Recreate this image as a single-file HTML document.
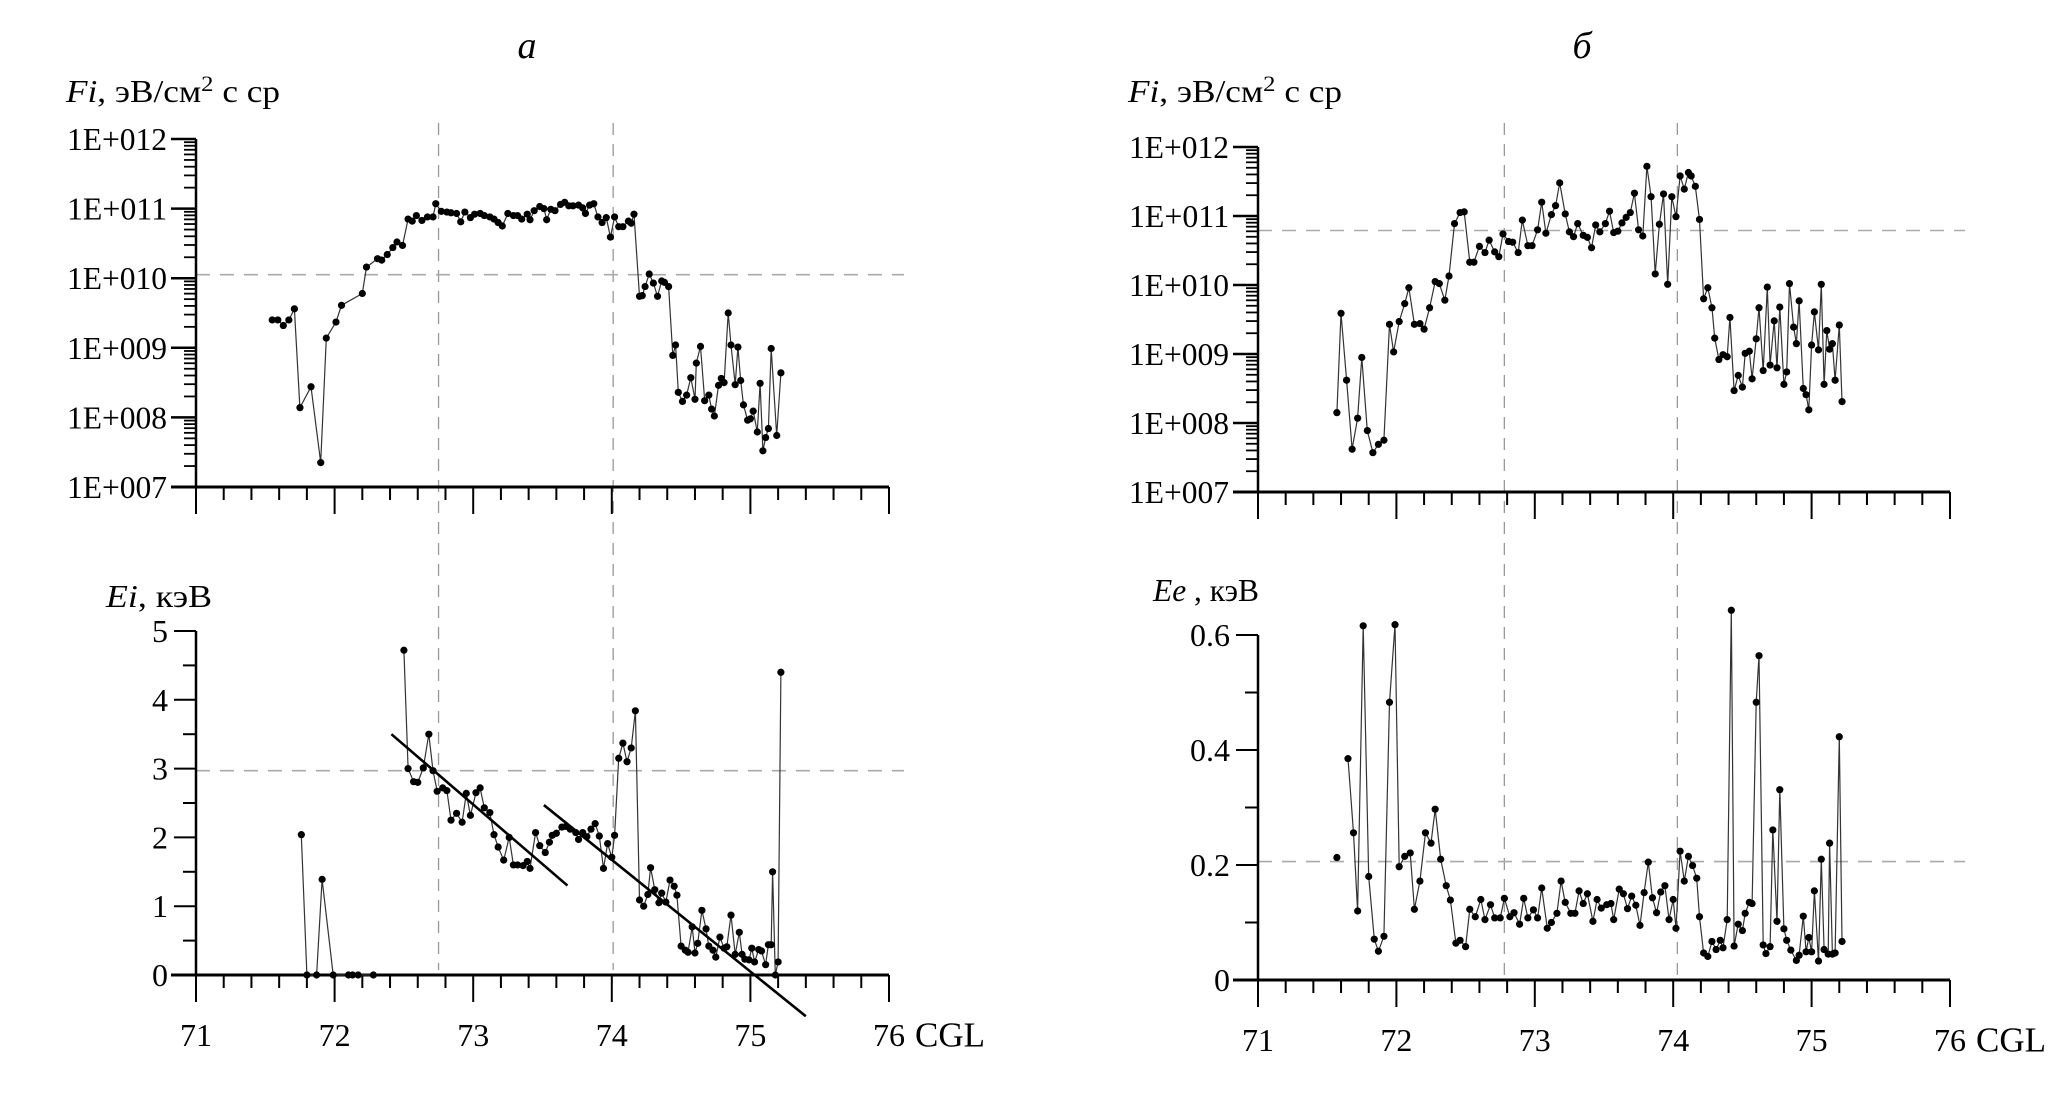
<!DOCTYPE html>
<html><head><meta charset="utf-8"><style>
html,body{margin:0;padding:0;background:#fff}
svg{display:block}
text{font-family:"Liberation Serif","DejaVu Serif",serif;fill:#000}
</style></head><body>
<svg id="chart" width="2071" height="1120" viewBox="0 0 2071 1120" xmlns="http://www.w3.org/2000/svg"></svg>
<script>
// ---- Panel a, top: Fi (log10 exponent) ----
const fiAX = [71.55,71.59,71.63,71.67,71.71,71.75,71.83,71.90,71.94,72.01,72.05,72.20,72.23,72.31,72.34,72.38,72.42,72.45,72.49,72.53,72.56,72.59,72.63,72.67,72.71,72.73,72.77,72.81,72.84,72.88,72.91,72.94,72.98,73.01,73.05,73.08,73.12,73.15,73.18,73.21,73.25,73.29,73.32,73.35,73.39,73.41,73.44,73.48,73.51,73.53,73.56,73.59,73.63,73.66,73.69,73.72,73.76,73.79,73.81,73.84,73.87,73.90,73.93,73.96,73.99,74.02,74.05,74.08,74.12,74.14,74.16,74.20,74.22,74.24,74.27,74.30,74.33,74.36,74.38,74.41,74.44,74.46,74.48,74.51,74.54,74.57,74.60,74.61,74.64,74.67,74.70,74.72,74.74,74.77,74.79,74.81,74.84,74.86,74.89,74.91,74.93,74.95,74.98,75.00,75.02,75.05,75.07,75.09,75.11,75.13,75.15,75.19,75.22];
const fiALog = [9.40,9.40,9.32,9.40,9.56,8.14,8.44,7.35,9.14,9.37,9.61,9.78,10.16,10.28,10.26,10.34,10.44,10.52,10.47,10.85,10.82,10.90,10.83,10.88,10.88,11.07,10.96,10.95,10.94,10.93,10.81,10.95,10.87,10.92,10.93,10.90,10.88,10.85,10.80,10.75,10.93,10.90,10.90,10.85,10.92,10.84,10.97,11.03,11.00,10.84,10.99,10.97,11.06,11.09,11.04,11.04,11.05,11.01,10.93,11.05,11.07,10.88,10.80,10.87,10.59,10.88,10.74,10.74,10.82,10.79,10.92,9.74,9.75,9.88,10.06,9.93,9.74,9.96,9.94,9.88,8.89,9.04,8.36,8.23,8.32,8.57,8.26,8.78,9.02,8.24,8.32,8.12,8.02,8.46,8.56,8.50,9.50,9.04,8.47,9.01,8.53,8.18,7.96,7.98,8.09,7.79,8.49,7.52,7.71,7.84,8.99,7.74,8.64];
// ---- Panel a, bottom: Ei, keV ----
const eiX = [71.76,71.80,71.87,71.91,71.99,72.10,72.13,72.17,72.28,72.50,72.53,72.57,72.60,72.64,72.68,72.71,72.74,72.78,72.81,72.84,72.88,72.92,72.95,72.98,73.02,73.05,73.08,73.12,73.15,73.18,73.22,73.26,73.29,73.32,73.36,73.39,73.41,73.45,73.48,73.52,73.55,73.57,73.60,73.64,73.67,73.70,73.74,73.76,73.79,73.82,73.85,73.88,73.91,73.94,73.97,74.00,74.02,74.05,74.08,74.11,74.14,74.17,74.20,74.23,74.26,74.28,74.31,74.34,74.36,74.39,74.42,74.45,74.47,74.50,74.53,74.55,74.58,74.60,74.62,74.65,74.68,74.70,74.73,74.75,74.78,74.81,74.83,74.86,74.89,74.92,74.94,74.96,74.99,75.01,75.03,75.06,75.08,75.11,75.13,75.15,75.16,75.18,75.20,75.22];
const eiVal = [2.04,0,0,1.39,0,0,0,0,0,4.72,3.00,2.81,2.80,3.01,3.50,2.97,2.67,2.72,2.68,2.25,2.35,2.22,2.64,2.32,2.65,2.72,2.43,2.36,2.04,1.86,1.67,2.00,1.60,1.60,1.59,1.65,1.55,2.07,1.88,1.78,1.93,2.03,2.06,2.15,2.16,2.12,2.07,1.97,2.07,2.01,2.12,2.20,2.02,1.55,1.91,1.71,2.03,3.15,3.37,3.10,3.30,3.84,1.09,1.00,1.17,1.56,1.24,1.05,1.19,1.06,1.38,1.29,1.16,0.42,0.36,0.33,0.70,0.32,0.46,0.94,0.67,0.42,0.36,0.26,0.55,0.39,0.41,0.87,0.30,0.62,0.30,0.23,0.22,0.39,0.19,0.37,0.35,0.15,0.44,0.44,1.50,0,0.19,4.40];
const eiBreaks = [9];
const fitLinesX = [[72.41,73.68],[73.51,75.40]];
const fitLinesY = [[3.50,1.30],[2.47,-0.60]];
// ---- Panel b, top: Fi (log10 exponent) ----
const fiBX = [71.57,71.60,71.64,71.68,71.72,71.75,71.79,71.83,71.87,71.91,71.95,71.98,72.02,72.06,72.09,72.13,72.17,72.20,72.24,72.28,72.31,72.35,72.38,72.42,72.46,72.49,72.53,72.56,72.60,72.64,72.67,72.71,72.74,72.77,72.81,72.84,72.88,72.91,72.95,72.98,73.02,73.05,73.08,73.12,73.15,73.18,73.22,73.25,73.28,73.31,73.35,73.38,73.41,73.44,73.47,73.51,73.54,73.57,73.60,73.63,73.66,73.69,73.72,73.75,73.78,73.81,73.84,73.87,73.90,73.93,73.96,73.99,74.02,74.05,74.08,74.11,74.13,74.16,74.19,74.22,74.25,74.28,74.30,74.33,74.36,74.39,74.41,74.44,74.47,74.50,74.52,74.55,74.57,74.60,74.62,74.65,74.68,74.70,74.73,74.75,74.77,74.80,74.82,74.84,74.87,74.89,74.91,74.94,74.96,74.98,75.00,75.02,75.05,75.07,75.09,75.11,75.13,75.15,75.17,75.20,75.22];
const fiBLog = [8.15,9.59,8.62,7.62,8.07,8.95,7.89,7.57,7.69,7.75,9.43,9.03,9.47,9.73,9.96,9.43,9.44,9.36,9.67,10.05,10.02,9.78,10.13,10.89,11.05,11.06,10.33,10.33,10.56,10.47,10.65,10.48,10.41,10.74,10.63,10.62,10.47,10.94,10.57,10.57,10.80,11.20,10.75,11.02,11.15,11.48,11.03,10.77,10.70,10.89,10.72,10.69,10.54,10.87,10.77,10.89,11.07,10.76,10.78,10.90,10.98,11.05,11.33,10.80,10.71,11.72,11.28,10.16,10.88,11.32,10.01,11.28,10.99,11.58,11.39,11.63,11.58,11.43,10.95,9.80,9.96,9.67,9.23,8.92,8.99,8.96,9.53,8.47,8.69,8.52,9.01,9.04,8.64,9.22,9.67,8.76,9.97,8.84,9.48,8.80,9.68,8.56,8.74,10.02,9.39,9.15,9.77,8.50,8.41,8.19,9.13,9.61,9.06,10.01,8.56,9.34,9.07,9.15,8.62,9.42,8.31];
// ---- Panel b, bottom: Ee, keV ----
const eeX = [71.57,71.65,71.69,71.72,71.76,71.80,71.84,71.87,71.91,71.95,71.99,72.02,72.06,72.10,72.13,72.17,72.21,72.25,72.28,72.32,72.36,72.39,72.43,72.46,72.50,72.53,72.57,72.61,72.64,72.68,72.71,72.75,72.78,72.82,72.85,72.89,72.92,72.95,72.99,73.02,73.05,73.09,73.12,73.16,73.19,73.22,73.26,73.29,73.32,73.35,73.38,73.42,73.45,73.48,73.52,73.55,73.57,73.61,73.64,73.67,73.70,73.73,73.76,73.79,73.82,73.85,73.88,73.91,73.94,73.97,74.00,74.02,74.05,74.08,74.11,74.14,74.17,74.19,74.22,74.25,74.28,74.31,74.34,74.36,74.39,74.42,74.44,74.47,74.50,74.52,74.55,74.57,74.60,74.62,74.65,74.67,74.70,74.72,74.75,74.77,74.80,74.82,74.85,74.89,74.91,74.94,74.96,74.98,75.00,75.02,75.05,75.07,75.09,75.12,75.13,75.15,75.17,75.20,75.22];
const eeVal = [0.213,0.385,0.256,0.120,0.616,0.180,0.071,0.050,0.076,0.483,0.618,0.197,0.215,0.221,0.123,0.172,0.256,0.238,0.297,0.210,0.164,0.139,0.064,0.069,0.058,0.123,0.110,0.140,0.105,0.131,0.108,0.108,0.142,0.110,0.117,0.097,0.142,0.108,0.122,0.108,0.160,0.090,0.100,0.116,0.172,0.135,0.116,0.116,0.155,0.133,0.150,0.102,0.140,0.125,0.131,0.133,0.105,0.158,0.150,0.124,0.146,0.130,0.095,0.152,0.205,0.143,0.117,0.153,0.164,0.105,0.140,0.090,0.224,0.172,0.215,0.199,0.177,0.110,0.047,0.041,0.067,0.053,0.069,0.056,0.105,0.643,0.059,0.097,0.086,0.116,0.135,0.133,0.483,0.564,0.061,0.046,0.058,0.261,0.102,0.331,0.089,0.069,0.052,0.034,0.043,0.111,0.049,0.074,0.049,0.155,0.033,0.210,0.053,0.045,0.238,0.045,0.047,0.423,0.067];
const eeBreaks = [1];
// ---- tick labels & reference lines ----
const xTicks = [71,72,73,74,75,76];
const logTicks = [12,11,10,9,8,7];
const eiTicks = [0,1,2,3,4,5];
const eeTicks = [0,0.2,0.4,0.6];
const vRefA = [72.75,74.01];
const vRefB = [72.78,74.03];
const hRefFiA = [10.05];
const hRefEiA = [2.97];
const hRefFiB = [10.79];
const hRefEeB = [0.206];

const svg = document.getElementById('chart');
const NS = 'http://www.w3.org/2000/svg';
function mk(tag, attrs, parent){
  const e = document.createElementNS(NS, tag);
  for (const k in attrs) e.setAttribute(k, attrs[k]);
  (parent||svg).appendChild(e);
  return e;
}
function txt(s, x, y, size, anchor, parent){
  const t = mk('text', {x:x, y:y, 'font-size':size, 'text-anchor':anchor||'middle', 'dominant-baseline':'central'}, parent);
  t.textContent = s;
  return t;
}

function makeX(x71, x76){ return v => x71 + (v-71)*(x76-x71)/5; }

const P = {
  a: {x71:196, x76:889, topY12:139, topY7:487, botY0:975, botYmax:631, botMax:5},
  b: {x71:1258, x76:1950, topY12:147, topY7:492, botY0:980, botYmax:635, botMax:0.6}
};

function drawXAxis(g, X, y, lab){
  mk('line',{x1:X(71)-25,y1:y,x2:X(76),y2:y,stroke:'#000','stroke-width':3},g);
  for (let i=0;i<=25;i++){
    const v = 71+i*0.2;
    const major = i%5===0;
    mk('line',{x1:X(v),y1:y,x2:X(v),y2:y+(major?27:13),stroke:'#000','stroke-width':2},g);
  }
  if (lab){
    xTicks.forEach(v=>{
      const t = txt(String(v), X(v), y+60, 32, 'middle', g);
      
      
    });
    const c = txt('CGL', X(76)+26, y+60, 35, 'start', g);
    
    
  }
}

function drawSeries(g, X, Y, xs, ys, name, breaks){
  let d = '';
  xs.forEach((v,i)=>{ d += ((i===0 || (breaks && breaks.includes(i)))?'M':'L') + X(v).toFixed(1) + ' ' + Y(ys[i]).toFixed(1); });
  const p = mk('path',{d:d,fill:'none',stroke:'#333','stroke-width':1.2},g);
  
  
  xs.forEach((v,i)=>{
    const c = mk('circle',{cx:X(v),cy:Y(ys[i]),r:3.6,fill:'#000'},g);
    
    
  });
}

function dashV(g, x, y1, y2){
  mk('line',{x1:x,y1:y1,x2:x,y2:y2,stroke:'#999','stroke-width':1.3,'stroke-dasharray':'12 9'},g);
}
function dashH(g, x1, x2, y){
  mk('line',{x1:x1,y1:y,x2:x2,y2:y,stroke:'#aaa','stroke-width':1.6,'stroke-dasharray':'14 10'},g);
}

function logPanel(key, xs, ls, hRef, vRef, name){
  const p = P[key];
  const X = makeX(p.x71, p.x76);
  const Y = l => p.topY7 - (l-7)*(p.topY7-p.topY12)/5;
  const g = mk('g',{});
  
  
  vRef.forEach(v=>dashV(g, X(v), 123, key==='a'?970:975));
  hRef.forEach(v=>dashH(g, p.x71, p.x76+15, Y(v)));
  mk('line',{x1:p.x71,y1:Y(12),x2:p.x71,y2:Y(7),stroke:'#000','stroke-width':2.5},g);
  logTicks.forEach(e=>{
    mk('line',{x1:p.x71-25,y1:Y(e),x2:p.x71,y2:Y(e),stroke:'#000','stroke-width':2.5},g);
    const t = txt('1E+0'+(e<10?'0':'')+e, p.x71-29, Y(e), 32, 'end', g);
    t.setAttribute('textLength', 100);
    t.setAttribute('lengthAdjust','spacingAndGlyphs');
    
    
    if (e>7) for (let k=2;k<=9;k++){
      const yy = Y(e-1+Math.log10(k));
      mk('line',{x1:p.x71-12,y1:yy,x2:p.x71,y2:yy,stroke:'#000','stroke-width':1.8},g);
    }
  });
  drawXAxis(g, X, Y(7), false);
  drawSeries(g, X, Y, xs, ls, name, null);
}

function linPanel(key, xs, vs, ticks, minorStep, hRef, name, fmt, breaks){
  const p = P[key];
  const X = makeX(p.x71, p.x76);
  const Y = v => p.botY0 - v*(p.botY0-p.botYmax)/p.botMax;
  const g = mk('g',{});
  
  
  hRef.forEach(v=>dashH(g, p.x71, p.x76+15, Y(v)));
  mk('line',{x1:p.x71,y1:Y(p.botMax),x2:p.x71,y2:p.botY0,stroke:'#000','stroke-width':2.5},g);
  const n = Math.round(p.botMax/minorStep);
  for (let i=0;i<=n;i++){
    const v = i*minorStep;
    const major = ticks.some(t=>Math.abs(t-v)<1e-9);
    mk('line',{x1:p.x71-(major?22:13),y1:Y(v),x2:p.x71,y2:Y(v),stroke:'#000','stroke-width':2},g);
  }
  ticks.forEach(v=>{
    const t = txt(fmt(v), p.x71-28, Y(v), 32, 'end', g);
    
    
  });
  drawXAxis(g, X, p.botY0, true);
  drawSeries(g, X, Y, xs, vs, name, breaks);
  return {X:X, Y:Y, g:g};
}

logPanel('a', fiAX, fiALog, hRefFiA, vRefA, 'fi-series-a');
logPanel('b', fiBX, fiBLog, hRefFiB, vRefB, 'fi-series-b');
const pa = linPanel('a', eiX, eiVal, eiTicks, 0.5, hRefEiA, 'ei-series-a', v=>String(v), eiBreaks);
linPanel('b', eeX, eeVal, eeTicks, 0.1, hRefEeB, 'ee-series-b', v=>v===0?'0':v.toFixed(1), eeBreaks);

fitLinesX.forEach((xx,i)=>{
  const l = mk('line',{x1:pa.X(xx[0]),y1:pa.Y(fitLinesY[i][0]),x2:pa.X(xx[1]),y2:pa.Y(fitLinesY[i][1]),stroke:'#000','stroke-width':2.6},pa.g);
  
  
});

function label(parts, x, y, size, name, len){
  const t = mk('text',{x:x,y:y,'font-size':size},svg);
  
  
  if (len){ t.setAttribute('textLength', len); t.setAttribute('lengthAdjust','spacingAndGlyphs'); }
  parts.forEach(pt=>{
    const s = document.createElementNS(NS,'tspan');
    if (pt.i) s.setAttribute('font-style','italic');
    if (pt.sup){ s.setAttribute('dy','-11'); s.setAttribute('font-size', size*0.7); }
    if (pt.down){ s.setAttribute('dy','11'); }
    s.textContent = pt.t;
    t.appendChild(s);
  });
  return t;
}
const ta = mk('text',{x:527,y:58,'font-size':38,'font-style':'italic','text-anchor':'middle'});
ta.textContent='a';


const tb = mk('text',{x:1582,y:58,'font-size':38,'font-style':'italic','text-anchor':'middle'});
tb.textContent='б';



label([{t:'Fi',i:1},{t:', эВ/см'},{t:'2',sup:1},{t:' с ср',down:1}], 66, 102, 32, 'y-axis-title-fi-a', 214);
label([{t:'Fi',i:1},{t:', эВ/см'},{t:'2',sup:1},{t:' с ср',down:1}], 1128, 102, 32, 'y-axis-title-fi-b', 214);
label([{t:'Ei',i:1},{t:', кэВ'}], 106, 607, 32, 'y-axis-title-ei', 106);
label([{t:'Ee',i:1},{t:' , кэВ'}], 1153, 601, 32, 'y-axis-title-ee', 106);
</script>
</body></html>
